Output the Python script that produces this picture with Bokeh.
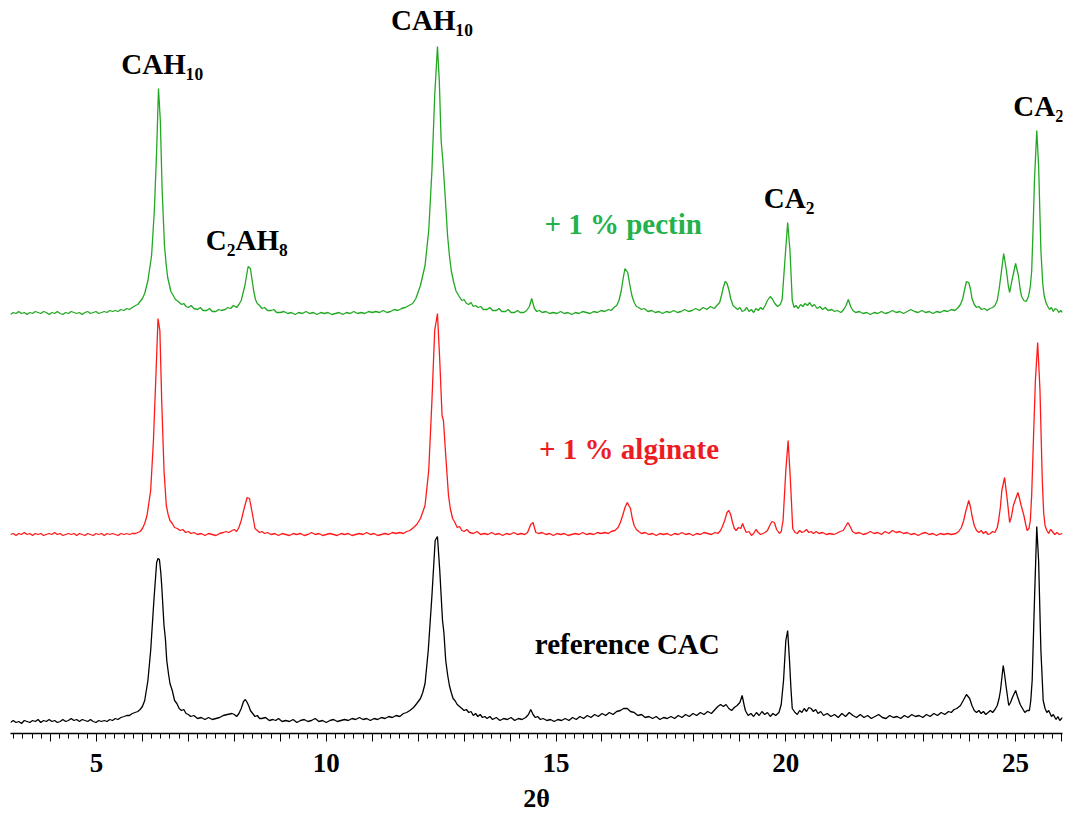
from bokeh.plotting import figure
from bokeh.models import Range1d, FixedTicker, Label
from bokeh.embed import file_html
from bokeh.resources import INLINE

# ---- data: (2theta, intensity above the pattern's own baseline) ----
pectin = [(3.13, -1), (3.19, 1), (3.25, 0), (3.31, 2), (3.37, 0), (3.43, 1), (3.49, -1), (3.55, 1), (3.61, 0),
          (3.67, 2), (3.73, 1), (3.79, 0), (3.85, 2), (3.91, 1), (3.97, -1), (4.03, 1), (4.09, 0), (4.15, 2),
          (4.21, 0), (4.27, -1), (4.33, 1), (4.39, 0), (4.45, 2), (4.51, 1), (4.57, 0), (4.63, 1), (4.69, -1),
          (4.75, 1), (4.81, 2), (4.87, 0), (4.93, 1), (4.99, 2), (5.05, 0), (5.11, 1), (5.17, 2), (5.23, 1),
          (5.29, 3), (5.35, 2), (5.41, 3), (5.47, 2), (5.53, 4), (5.6, 3), (5.66, 5), (5.72, 4), (5.78, 6),
          (5.85, 8), (5.9, 9), (5.95, 12), (6.0, 15), (6.05, 20), (6.12, 33), (6.2, 58), (6.26, 103),
          (6.31, 163), (6.35, 225), (6.39, 193), (6.43, 123), (6.48, 68), (6.52, 48), (6.55, 36), (6.58, 30),
          (6.62, 22), (6.66, 19), (6.72, 14), (6.78, 12), (6.85, 9), (6.9, 10), (6.95, 7), (7.0, 6), (7.06, 8),
          (7.12, 5), (7.2, 4), (7.26, 6), (7.32, 3), (7.4, 3), (7.46, 5), (7.52, 2), (7.6, 2), (7.66, 4),
          (7.72, 3), (7.8, 4), (7.86, 6), (7.92, 5), (7.98, 8), (8.05, 6), (8.1, 9), (8.15, 13), (8.23, 28),
          (8.3, 47), (8.35, 45), (8.42, 23), (8.46, 14), (8.5, 10), (8.55, 8), (8.6, 5), (8.66, 6), (8.72, 3),
          (8.8, 3), (8.86, 4), (8.92, 1), (9.0, 1), (9.08, 2), (9.16, 0), (9.24, 1), (9.32, -1), (9.4, 1),
          (9.48, 0), (9.56, 2), (9.64, 0), (9.72, 1), (9.8, -1), (9.88, 1), (9.96, 0), (10.04, 1), (10.12, -1),
          (10.2, 0), (10.28, 1), (10.36, -1), (10.44, 1), (10.52, 0), (10.6, 2), (10.68, 0), (10.76, 1),
          (10.84, 0), (10.92, 2), (11.0, 1), (11.08, 2), (11.16, 1), (11.24, 3), (11.32, 1), (11.4, 2),
          (11.48, 4), (11.56, 3), (11.64, 5), (11.72, 6), (11.8, 8), (11.88, 10), (11.95, 15), (12.05, 28),
          (12.15, 48), (12.23, 83), (12.3, 143), (12.36, 218), (12.42, 267), (12.46, 233), (12.5, 173),
          (12.54, 151), (12.58, 123), (12.64, 78), (12.68, 58), (12.72, 43), (12.77, 32), (12.82, 23),
          (12.88, 18), (12.95, 13), (13.0, 14), (13.05, 10), (13.1, 9), (13.15, 11), (13.2, 7), (13.25, 8),
          (13.3, 6), (13.36, 7), (13.42, 4), (13.5, 4), (13.56, 6), (13.62, 3), (13.7, 3), (13.76, 5),
          (13.82, 2), (13.9, 2), (13.96, 4), (14.02, 1), (14.1, 1), (14.16, 3), (14.22, 1), (14.3, 1),
          (14.36, 3), (14.42, 7), (14.47, 15), (14.53, 5), (14.58, 2), (14.64, 3), (14.7, 1), (14.78, 2),
          (14.86, 0), (14.94, 1), (15.02, 0), (15.1, 2), (15.18, 0), (15.26, 1), (15.34, -1), (15.42, 1),
          (15.5, 0), (15.58, 2), (15.66, 1), (15.74, 0), (15.82, 2), (15.9, 1), (15.98, 3), (16.06, 2),
          (16.14, 4), (16.2, 3), (16.26, 6), (16.32, 8), (16.37, 13), (16.42, 23), (16.46, 35), (16.5, 45),
          (16.56, 41), (16.6, 30), (16.65, 18), (16.7, 11), (16.75, 7), (16.8, 6), (16.86, 4), (16.92, 5),
          (17.0, 2), (17.08, 3), (17.16, 1), (17.24, 2), (17.32, 0), (17.4, 2), (17.48, 1), (17.56, 3),
          (17.64, 1), (17.72, 2), (17.8, 4), (17.88, 2), (17.96, 3), (18.04, 5), (18.12, 3), (18.2, 6),
          (18.28, 4), (18.36, 7), (18.44, 5), (18.5, 8), (18.56, 11), (18.6, 18), (18.64, 26), (18.68, 32),
          (18.72, 30), (18.76, 24), (18.8, 15), (18.85, 8), (18.9, 6), (18.95, 4), (19.0, 6), (19.05, 2),
          (19.1, 3), (19.15, 6), (19.2, 2), (19.25, 4), (19.3, 1), (19.35, 5), (19.4, 3), (19.45, 6),
          (19.5, 4), (19.55, 8), (19.6, 13), (19.66, 17), (19.7, 15), (19.76, 10), (19.82, 7), (19.88, 9),
          (19.92, 14), (19.98, 53), (20.04, 91), (20.09, 63), (20.14, 13), (20.18, 6), (20.22, 8), (20.27, 5),
          (20.32, 9), (20.37, 7), (20.42, 10), (20.47, 8), (20.52, 11), (20.57, 7), (20.62, 9), (20.68, 5),
          (20.74, 7), (20.8, 4), (20.86, 6), (20.92, 3), (21.0, 4), (21.06, 2), (21.12, 3), (21.2, 1),
          (21.26, 4), (21.31, 8), (21.36, 14), (21.41, 7), (21.46, 3), (21.52, 1), (21.6, 2), (21.68, 0),
          (21.76, 1), (21.84, -1), (21.92, 1), (22.0, 0), (22.08, 2), (22.16, 0), (22.24, 1), (22.32, 3),
          (22.4, 1), (22.48, 2), (22.56, 0), (22.64, 2), (22.72, 4), (22.8, 2), (22.88, 1), (22.96, 3),
          (23.04, 1), (23.12, 2), (23.2, 0), (23.28, 2), (23.36, 1), (23.44, 3), (23.52, 2), (23.6, 4),
          (23.68, 3), (23.75, 6), (23.8, 9), (23.85, 15), (23.89, 24), (23.93, 32), (23.98, 31), (24.02, 24),
          (24.05, 15), (24.1, 9), (24.15, 6), (24.2, 7), (24.26, 4), (24.32, 5), (24.38, 3), (24.44, 5),
          (24.5, 6), (24.55, 8), (24.6, 13), (24.64, 24), (24.68, 38), (24.74, 60), (24.8, 43), (24.84, 28),
          (24.87, 21), (24.92, 33), (25.0, 50), (25.06, 38), (25.1, 24), (25.13, 17), (25.18, 13),
          (25.23, 12), (25.28, 17), (25.32, 27), (25.35, 43), (25.38, 85), (25.41, 133), (25.46, 183),
          (25.5, 148), (25.55, 63), (25.59, 30), (25.62, 18), (25.66, 11), (25.7, 7), (25.74, 4), (25.78, 6),
          (25.82, 2), (25.86, 5), (25.9, 4), (25.94, 1), (25.98, 3), (26.02, 1)]

alginate = [(3.13, 0), (3.19, 1), (3.25, -1), (3.31, 1), (3.37, 0), (3.43, 2), (3.49, 0), (3.55, 1),
            (3.61, -1), (3.67, 1), (3.73, 0), (3.79, 1), (3.85, -1), (3.91, 0), (3.97, 1), (4.03, 0),
            (4.09, 2), (4.15, 0), (4.21, 1), (4.27, -1), (4.33, 0), (4.39, 1), (4.45, 0), (4.51, 1),
            (4.57, -1), (4.63, 1), (4.69, 0), (4.75, -1), (4.81, 1), (4.87, 0), (4.93, -1), (4.99, 1),
            (5.05, 0), (5.11, 1), (5.17, -1), (5.23, 1), (5.29, 0), (5.35, 1), (5.41, 0), (5.47, -1),
            (5.53, 1), (5.6, 0), (5.66, 1), (5.72, 0), (5.78, 1), (5.85, 1), (5.9, 2), (5.95, 3), (6.0, 6),
            (6.05, 11), (6.1, 19), (6.18, 44), (6.24, 94), (6.29, 154), (6.34, 216), (6.38, 204), (6.42, 134),
            (6.47, 64), (6.52, 29), (6.56, 20), (6.6, 14), (6.65, 11), (6.7, 7), (6.76, 6), (6.82, 4),
            (6.88, 5), (6.94, 2), (7.0, 3), (7.06, 1), (7.12, 2), (7.2, 0), (7.28, 1), (7.36, -1), (7.44, 1),
            (7.52, 0), (7.6, -1), (7.68, 1), (7.76, 2), (7.82, 3), (7.88, 2), (7.95, 4), (8.0, 5), (8.05, 3),
            (8.1, 7), (8.15, 14), (8.23, 29), (8.28, 37), (8.33, 36), (8.38, 24), (8.42, 14), (8.45, 6),
            (8.5, 4), (8.55, 2), (8.6, 3), (8.66, 1), (8.72, 2), (8.8, 0), (8.88, 1), (8.96, -1), (9.04, 1),
            (9.12, 0), (9.2, -1), (9.28, 1), (9.36, 0), (9.44, 1), (9.52, -1), (9.6, 0), (9.68, 2), (9.76, 0),
            (9.84, 1), (9.92, -1), (10.0, 0), (10.08, 1), (10.16, 0), (10.24, -1), (10.32, 1), (10.4, 0),
            (10.48, 1), (10.56, -1), (10.64, 0), (10.72, 1), (10.8, 0), (10.88, 2), (10.96, 0), (11.04, 1),
            (11.12, -1), (11.2, 0), (11.28, 1), (11.36, 0), (11.44, 2), (11.52, 1), (11.6, 2), (11.68, 1),
            (11.75, 3), (11.82, 4), (11.9, 7), (11.97, 10), (12.05, 16), (12.15, 29), (12.23, 64), (12.3, 134),
            (12.36, 204), (12.42, 221), (12.47, 174), (12.52, 119), (12.55, 114), (12.6, 79), (12.66, 39),
            (12.7, 26), (12.75, 16), (12.8, 12), (12.85, 7), (12.9, 8), (12.95, 4), (13.0, 3), (13.06, 5),
            (13.12, 2), (13.2, 1), (13.28, 3), (13.36, 0), (13.44, 1), (13.52, 0), (13.6, 2), (13.68, 0),
            (13.76, 1), (13.84, -1), (13.92, 1), (14.0, 0), (14.08, 2), (14.16, 0), (14.24, 1), (14.32, 0),
            (14.38, 2), (14.45, 10), (14.5, 12), (14.56, 2), (14.62, 1), (14.7, 2), (14.78, 0), (14.86, 1),
            (14.94, -1), (15.02, 1), (15.1, 0), (15.18, 1), (15.26, -1), (15.34, 0), (15.42, 1), (15.5, 0),
            (15.58, 2), (15.66, 0), (15.74, 1), (15.82, 0), (15.9, 2), (15.98, 1), (16.06, 2), (16.14, 1),
            (16.2, 3), (16.28, 4), (16.35, 7), (16.4, 12), (16.45, 19), (16.5, 27), (16.55, 32), (16.62, 26),
            (16.66, 16), (16.7, 9), (16.75, 5), (16.8, 3), (16.86, 1), (16.94, 2), (17.02, 0), (17.1, 1),
            (17.18, -1), (17.26, 1), (17.34, 0), (17.42, 1), (17.5, -1), (17.58, 1), (17.66, 0), (17.74, 2),
            (17.82, 0), (17.9, 1), (17.98, -1), (18.06, 1), (18.14, 0), (18.22, 2), (18.3, 1), (18.38, 0),
            (18.46, 2), (18.52, 1), (18.58, 4), (18.62, 8), (18.67, 14), (18.72, 22), (18.76, 24), (18.8, 20),
            (18.84, 12), (18.88, 6), (18.92, 4), (18.97, 7), (19.02, 6), (19.06, 11), (19.1, 6), (19.14, 2),
            (19.2, 3), (19.25, -1), (19.3, 1), (19.35, 5), (19.4, 2), (19.45, 0), (19.5, 1), (19.55, 2),
            (19.6, 4), (19.65, 9), (19.7, 13), (19.75, 12), (19.8, 5), (19.86, 1), (19.9, 3), (19.94, 14),
            (20.0, 64), (20.05, 94), (20.1, 54), (20.15, 6), (20.2, 2), (20.25, 1), (20.3, 4), (20.35, 2),
            (20.4, 3), (20.45, 5), (20.5, 2), (20.55, 3), (20.6, 1), (20.66, 3), (20.72, 1), (20.8, 2),
            (20.88, 0), (20.96, 1), (21.04, 0), (21.1, 1), (21.18, 3), (21.25, 4), (21.3, 8), (21.35, 12),
            (21.4, 8), (21.45, 3), (21.52, 1), (21.6, 2), (21.68, 0), (21.76, 1), (21.84, 3), (21.92, 1),
            (22.0, 2), (22.08, 0), (22.16, 3), (22.24, 1), (22.32, 4), (22.4, 2), (22.48, 3), (22.56, 1),
            (22.64, 2), (22.72, 0), (22.8, 1), (22.88, -1), (22.96, 1), (23.04, 2), (23.12, 0), (23.2, 1),
            (23.28, -1), (23.36, 1), (23.44, 0), (23.52, 1), (23.6, 0), (23.7, 1), (23.76, 3), (23.82, 7),
            (23.87, 14), (23.92, 24), (23.98, 34), (24.02, 27), (24.05, 19), (24.1, 9), (24.15, 4), (24.2, 2),
            (24.25, 4), (24.3, 1), (24.35, 3), (24.4, 0), (24.45, 1), (24.5, 3), (24.55, 2), (24.6, 7),
            (24.63, 14), (24.67, 28), (24.7, 44), (24.76, 57), (24.82, 34), (24.87, 12), (24.91, 18),
            (24.95, 29), (25.05, 42), (25.09, 35), (25.12, 29), (25.18, 19), (25.22, 10), (25.25, 4),
            (25.29, 6), (25.32, 14), (25.35, 40), (25.38, 84), (25.43, 154), (25.48, 192), (25.53, 144),
            (25.58, 54), (25.61, 22), (25.64, 9), (25.68, 4), (25.72, 1), (25.76, 5), (25.8, 3), (25.85, 0),
            (25.9, 2), (25.95, 0), (26.02, 1)]

reference = [(3.13, 0), (3.19, 2), (3.25, 0), (3.31, 1), (3.37, -1), (3.43, 2), (3.49, 1), (3.55, 0),
             (3.61, 2), (3.67, 1), (3.73, 3), (3.79, 0), (3.85, 2), (3.91, 1), (3.97, 3), (4.03, 1), (4.09, 2),
             (4.15, 0), (4.21, 1), (4.27, 3), (4.33, 1), (4.39, 2), (4.45, 4), (4.51, 2), (4.57, 3), (4.63, 1),
             (4.69, 3), (4.75, 2), (4.81, 1), (4.87, 3), (4.93, 1), (4.99, 0), (5.05, 2), (5.11, 1), (5.17, 2),
             (5.23, 1), (5.29, 3), (5.35, 2), (5.41, 4), (5.47, 3), (5.53, 5), (5.6, 6), (5.66, 7), (5.72, 7),
             (5.78, 9), (5.84, 10), (5.9, 11), (5.95, 13), (6.0, 16), (6.05, 22), (6.12, 42), (6.18, 72),
             (6.25, 122), (6.31, 160), (6.34, 164), (6.37, 163), (6.4, 150), (6.42, 137), (6.47, 97),
             (6.5, 84), (6.53, 62), (6.57, 48), (6.6, 39), (6.65, 32), (6.7, 22), (6.75, 19), (6.8, 14),
             (6.85, 12), (6.9, 13), (6.95, 9), (7.0, 8), (7.05, 6), (7.12, 7), (7.2, 4), (7.28, 5), (7.36, 3),
             (7.44, 5), (7.52, 3), (7.6, 4), (7.68, 5), (7.76, 7), (7.85, 8), (7.95, 9), (8.0, 8), (8.05, 6),
             (8.1, 9), (8.15, 14), (8.2, 21), (8.24, 23), (8.28, 20), (8.32, 16), (8.35, 12), (8.4, 9),
             (8.45, 6), (8.5, 7), (8.55, 4), (8.6, 4), (8.68, 5), (8.76, 2), (8.84, 3), (8.9, 2), (8.96, 4),
             (9.04, 1), (9.12, 2), (9.2, 1), (9.28, 3), (9.36, 0), (9.44, 2), (9.52, 3), (9.6, 1), (9.68, 2),
             (9.76, 4), (9.84, 1), (9.92, 2), (10.0, 0), (10.08, 2), (10.16, 3), (10.24, 1), (10.32, 2),
             (10.4, 3), (10.48, 2), (10.56, 4), (10.64, 3), (10.72, 5), (10.8, 3), (10.88, 4), (10.96, 2),
             (11.04, 4), (11.12, 3), (11.2, 5), (11.28, 4), (11.36, 6), (11.44, 5), (11.52, 7), (11.6, 6),
             (11.68, 9), (11.75, 10), (11.82, 12), (11.9, 15), (11.97, 19), (12.05, 24), (12.1, 30),
             (12.15, 39), (12.22, 72), (12.3, 127), (12.37, 182), (12.42, 186), (12.47, 152), (12.53, 102),
             (12.56, 90), (12.6, 62), (12.64, 48), (12.68, 37), (12.72, 30), (12.76, 24), (12.8, 22),
             (12.85, 18), (12.9, 16), (12.95, 14), (13.0, 12), (13.05, 13), (13.1, 10), (13.15, 11),
             (13.2, 7), (13.25, 9), (13.3, 6), (13.35, 8), (13.4, 5), (13.45, 6), (13.5, 4), (13.56, 6),
             (13.62, 3), (13.7, 5), (13.78, 2), (13.86, 4), (13.94, 3), (14.02, 5), (14.1, 2), (14.18, 4),
             (14.26, 3), (14.34, 5), (14.4, 8), (14.45, 13), (14.5, 8), (14.55, 5), (14.6, 6), (14.66, 3),
             (14.72, 4), (14.8, 2), (14.88, 3), (14.96, 1), (15.04, 3), (15.12, 2), (15.2, 4), (15.28, 2),
             (15.36, 5), (15.44, 3), (15.52, 6), (15.6, 4), (15.68, 7), (15.76, 5), (15.84, 8), (15.92, 6),
             (16.0, 9), (16.08, 7), (16.16, 10), (16.24, 8), (16.32, 11), (16.4, 12), (16.47, 14), (16.55, 14),
             (16.62, 11), (16.7, 10), (16.78, 7), (16.86, 8), (16.94, 5), (17.02, 6), (17.1, 4), (17.18, 6),
             (17.26, 3), (17.34, 5), (17.42, 4), (17.5, 6), (17.58, 4), (17.66, 7), (17.74, 5), (17.82, 8),
             (17.9, 6), (17.98, 9), (18.06, 7), (18.14, 10), (18.22, 8), (18.3, 11), (18.38, 9), (18.46, 13),
             (18.52, 16), (18.58, 18), (18.64, 16), (18.7, 18), (18.76, 14), (18.82, 12), (18.88, 15),
             (18.94, 17), (19.0, 20), (19.05, 27), (19.09, 18), (19.12, 12), (19.18, 7), (19.24, 9), (19.3, 6),
             (19.36, 10), (19.42, 7), (19.48, 11), (19.54, 8), (19.6, 10), (19.66, 6), (19.72, 9), (19.78, 7),
             (19.85, 10), (19.9, 18), (19.95, 42), (20.0, 82), (20.04, 92), (20.08, 62), (20.11, 35),
             (20.14, 14), (20.2, 10), (20.25, 8), (20.3, 12), (20.35, 10), (20.4, 14), (20.45, 11), (20.5, 15),
             (20.55, 14), (20.6, 11), (20.65, 13), (20.7, 9), (20.76, 11), (20.82, 7), (20.9, 9), (20.98, 6),
             (21.06, 8), (21.14, 5), (21.22, 9), (21.3, 6), (21.38, 10), (21.46, 7), (21.54, 5), (21.62, 8),
             (21.7, 5), (21.78, 7), (21.86, 4), (21.94, 6), (22.02, 8), (22.1, 5), (22.18, 4), (22.26, 7),
             (22.34, 5), (22.42, 6), (22.5, 4), (22.58, 7), (22.66, 5), (22.74, 8), (22.82, 6), (22.9, 7),
             (22.98, 5), (23.06, 8), (23.14, 6), (23.22, 9), (23.3, 7), (23.38, 10), (23.46, 8), (23.54, 11),
             (23.6, 10), (23.66, 13), (23.72, 14), (23.8, 17), (23.86, 22), (23.93, 28), (24.0, 24),
             (24.05, 17), (24.1, 12), (24.15, 10), (24.2, 12), (24.25, 9), (24.3, 11), (24.35, 8), (24.4, 10),
             (24.45, 12), (24.5, 10), (24.55, 13), (24.6, 17), (24.64, 24), (24.67, 32), (24.73, 57),
             (24.76, 48), (24.79, 37), (24.85, 17), (24.89, 20), (24.93, 25), (25.0, 32), (25.04, 26),
             (25.07, 22), (25.1, 18), (25.15, 14), (25.2, 10), (25.25, 12), (25.3, 12), (25.33, 22),
             (25.36, 42), (25.41, 122), (25.46, 196), (25.5, 162), (25.55, 72), (25.6, 22), (25.64, 14),
             (25.68, 10), (25.72, 12), (25.78, 6), (25.82, 8), (25.88, 3), (25.92, 6), (25.96, 2), (26.02, 5)]

# vertical stacking offsets of the three patterns
offset_reference = 11
offset_alginate = 199
offset_pectin = 420

series_names = ["reference CAC", "+ 1 % alginate", "+ 1 % pectin"]
series_colors = ["#000000", "#ff1a1a", "#22a822"]
label_colors = ["#000000", "#ed1c24", "#22b14c"]

phase_labels = ["CAH\u2081\u2080", "C\u2082AH\u2088", "CAH\u2081\u2080", "CA\u2082", "CA\u2082"]
phase_label_x = [6.43, 8.27, 12.30, 20.07, 25.50]
phase_label_y = [670, 494, 714, 536, 628]

series_label_x = [16.55, 16.59, 16.46]
series_label_y = [90, 285, 510]

tick_positions = list(range(4, 27))
tick_labels = {t: (str(t) if t % 5 == 0 else "") for t in tick_positions}
minor_positions = [round(3.2 + 0.2 * i, 1) for i in range(115)
                   if abs((3.2 + 0.2 * i) - round(3.2 + 0.2 * i)) > 1e-6]

FONT = "Liberation Serif"

p = figure(frame_width=1052, frame_height=725, output_backend="svg", toolbar_location=None,
           x_range=Range1d(3.13, 26.02), y_range=Range1d(0, 725), y_axis_location=None,
           min_border_left=10, min_border_right=4, min_border_top=8, min_border_bottom=0)
p.outline_line_color = None
p.grid.visible = False
p.background_fill_color = "white"

for pattern, off, col in [(reference, offset_reference, series_colors[0]),
                          (alginate, offset_alginate, series_colors[1]),
                          (pectin, offset_pectin, series_colors[2])]:
    xs = [a for a, b in pattern]
    ys = [b + off for a, b in pattern]
    p.line(xs, ys, line_color=col, line_width=1.3)

for txt, x, y in zip(phase_labels, phase_label_x, phase_label_y):
    p.add_layout(Label(x=x, y=y, text=txt, text_font=FONT, text_font_style="bold",
                       text_font_size="29px", text_align="center", text_baseline="middle",
                       text_color="black"))

for txt, x, y, c in zip(series_names, series_label_x, series_label_y, label_colors):
    p.add_layout(Label(x=x, y=y, text=txt, text_font=FONT, text_font_style="bold",
                       text_font_size="29px", text_align="center", text_baseline="middle",
                       text_color=c))

ax = p.xaxis[0]
ax.ticker = FixedTicker(ticks=tick_positions, minor_ticks=minor_positions)
ax.major_label_overrides = tick_labels
ax.axis_label = "2\u03b8"
ax.axis_label_text_font = FONT
ax.axis_label_text_font_style = "bold"
ax.axis_label_text_font_size = "26px"
ax.axis_label_text_color = "black"
ax.axis_label_standoff = 9
ax.major_label_text_font = FONT
ax.major_label_text_font_style = "bold"
ax.major_label_text_font_size = "27px"
ax.major_label_text_color = "black"
ax.major_label_standoff = 12
ax.axis_line_width = 1.5
ax.axis_line_color = "black"
ax.major_tick_in = 0
ax.major_tick_out = 8
ax.minor_tick_in = 0
ax.minor_tick_out = 5
ax.major_tick_line_color = "black"
ax.minor_tick_line_color = "black"

open("out.html", "w").write(file_html(p, INLINE))
